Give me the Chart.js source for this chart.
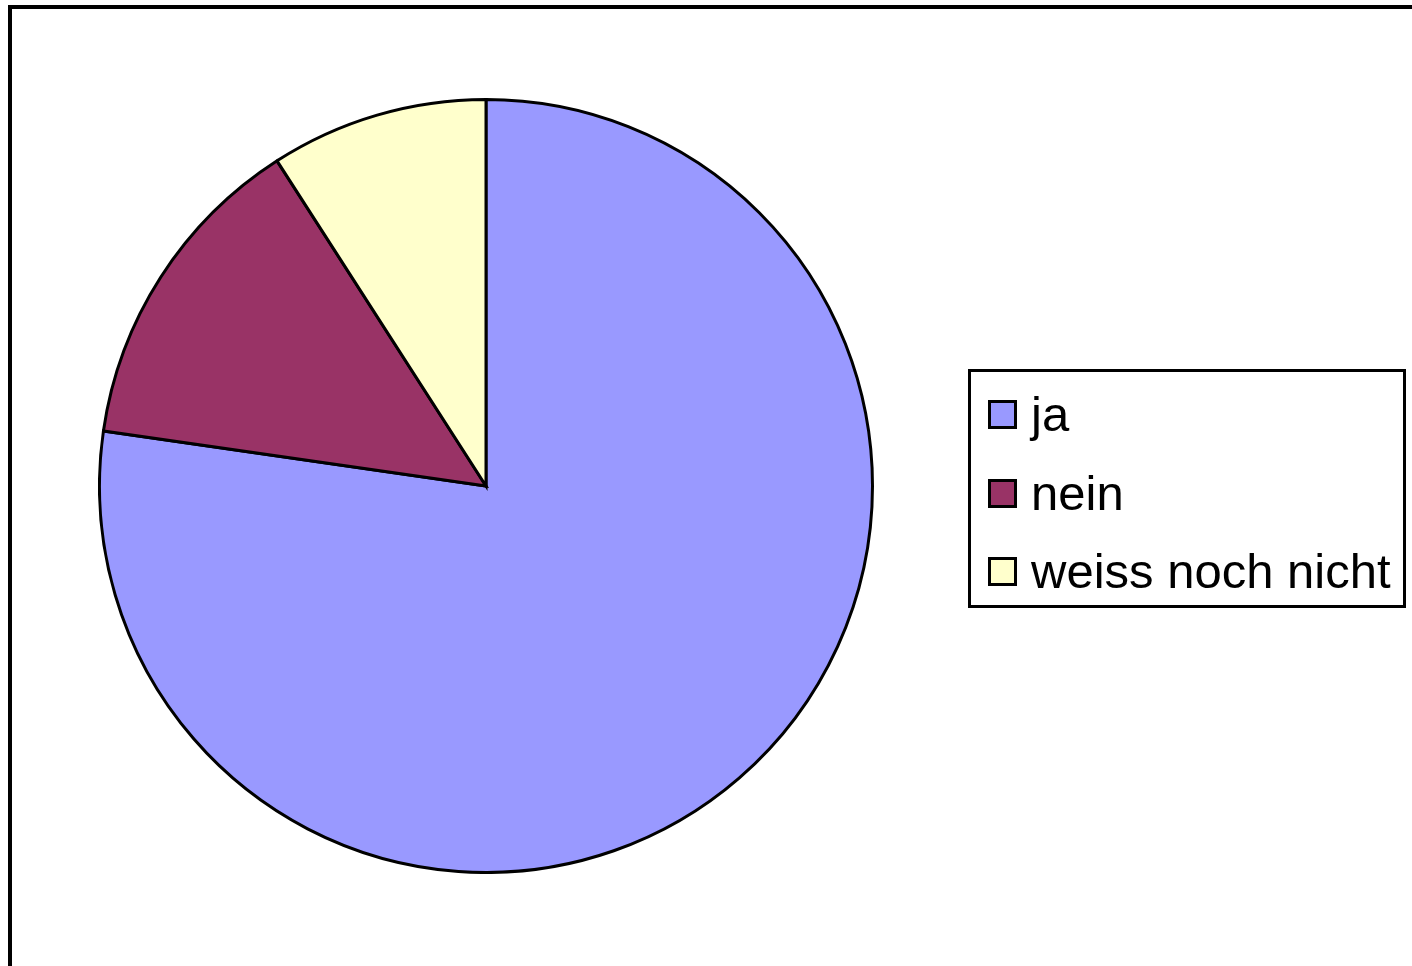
<!DOCTYPE html>
<html lang="de">
<head>
  <meta charset="UTF-8" />
  <title>Umfrage</title>
  <script src="https://cdn.jsdelivr.net/npm/chart.js"></script>
  <style>
    body { margin: 0; background: #fff; font-family: "Liberation Sans", Arial, sans-serif; }
    #frame { position: absolute; left: 8px; top: 5px; width: 1500px; height: 1100px;
             border-left: 4px solid #000; border-top: 4px solid #000; }
    #wrap { position: absolute; left: 98px; top: 98px; width: 776px; height: 776px; }
    #legend { position: absolute; left: 968px; top: 369px; width: 432px; height: 233px;
              border: 3px solid #000; background: #fff; }
    .item { position: absolute; left: 17px; height: 50px; display: flex; align-items: center; }
    .box { width: 23px; height: 23px; border: 3px solid #000; margin-right: 14px; }
    .txt { font-size: 49px; color: #000; line-height: 50px; }
    html, body { overflow: hidden; width: 1412px; height: 966px; }
  </style>
</head>
<body>
  <div id="frame"></div>
  <div id="wrap"><canvas id="chart"></canvas></div>
  <div id="legend"></div>

  <script>
    // Antworten (Anzahl)
    const labels = ['ja', 'nein', 'weiss noch nicht'];
    const values = [17, 3, 2];
    const colors = ['#9999FF', '#993366', '#FFFFCC'];

    const ctx = document.getElementById('chart').getContext('2d');
    const chart = new Chart(ctx, {
      type: 'pie',
      data: {
        labels: labels,
        datasets: [{
          data: values,
          backgroundColor: colors,
          borderColor: '#000',
          borderWidth: 3,
          borderJoinStyle: 'miter'
        }]
      },
      options: {
        responsive: true,
        maintainAspectRatio: false,
        animation: false,
        layout: { padding: 0 },
        plugins: {
          legend: { display: false },
          tooltip: { enabled: false }
        }
      }
    });

    // eigene Legende mit Rahmen
    const legend = document.getElementById('legend');
    const tops = [17, 96, 174];
    labels.forEach((l, i) => {
      const row = document.createElement('div');
      row.className = 'item';
      row.style.top = tops[i] + 'px';
      row.innerHTML = '<div class="box" style="background:' + colors[i] + '"></div><span class="txt">' + l + '</span>';
      legend.appendChild(row);
    });
  </script>
</body>
</html>
